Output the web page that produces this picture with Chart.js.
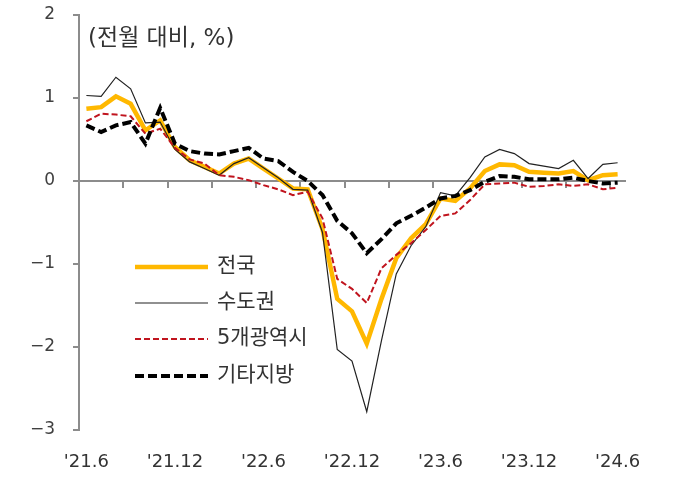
<!DOCTYPE html>
<html>
<head>
<meta charset="utf-8">
<script src="https://cdn.jsdelivr.net/npm/chart.js@4.4.1/dist/chart.umd.min.js"></script>
<style>
  html, body { margin: 0; padding: 0; background: #fff; }
  #wrap { width: 686px; height: 479px; position: relative; }
</style>
</head>
<body>
<div id="wrap"><canvas id="myChart"></canvas></div>
<script>
// 월별 전월 대비 변동률 (%), '21.6 ~ '24.6
const months = [
  "'21.6", "'21.7", "'21.8", "'21.9", "'21.10", "'21.11", "'21.12",
  "'22.1", "'22.2", "'22.3", "'22.4", "'22.5", "'22.6",
  "'22.7", "'22.8", "'22.9", "'22.10", "'22.11", "'22.12",
  "'23.1", "'23.2", "'23.3", "'23.4", "'23.5", "'23.6",
  "'23.7", "'23.8", "'23.9", "'23.10", "'23.11", "'23.12",
  "'24.1", "'24.2", "'24.3", "'24.4", "'24.5", "'24.6"
];
const national = [
  0.87, 0.89, 1.02, 0.93, 0.61, 0.73, 0.41, 0.25, 0.17, 0.09, 0.21, 0.27, 0.15,
  0.03, -0.09, -0.10, -0.58, -1.42, -1.57, -1.96, -1.42, -0.93, -0.69, -0.52, -0.21,
  -0.24, -0.09, 0.12, 0.20, 0.19, 0.11, 0.10, 0.09, 0.12, 0.01, 0.07, 0.08
];
const capital = [
  1.03, 1.02, 1.25, 1.11, 0.70, 0.71, 0.38, 0.23, 0.15, 0.07, 0.21, 0.28, 0.16,
  0.04, -0.10, -0.11, -0.62, -2.03, -2.17, -2.78, -1.92, -1.12, -0.78, -0.55, -0.14,
  -0.18, 0.04, 0.29, 0.38, 0.33, 0.21, 0.18, 0.15, 0.25, 0.03, 0.20, 0.22
];
const metro5 = [
  0.72, 0.81, 0.80, 0.78, 0.57, 0.63, 0.40, 0.26, 0.21, 0.07, 0.05, 0.01, -0.05,
  -0.10, -0.17, -0.13, -0.45, -1.18, -1.30, -1.47, -1.05, -0.89, -0.75, -0.59, -0.42,
  -0.39, -0.23, -0.04, -0.03, -0.02, -0.07, -0.06, -0.04, -0.06, -0.04, -0.10, -0.08
];
const others = [
  0.67, 0.59, 0.67, 0.71, 0.45, 0.88, 0.45, 0.36, 0.33, 0.32, 0.36, 0.40, 0.27,
  0.24, 0.11, 0.00, -0.17, -0.48, -0.63, -0.87, -0.70, -0.51, -0.42, -0.32, -0.21,
  -0.18, -0.11, -0.01, 0.06, 0.05, 0.02, 0.02, 0.02, 0.04, 0.00, -0.03, -0.02
];
const unitLabel = "(전월 대비, %)";

const FONT = "'DejaVu Sans', 'Noto Sans CJK KR', sans-serif";
const AXIS = "#8c8c8c";

// 범례 + 단위 표시 (차트 안쪽)
const insideLegend = {
  id: "insideLegend",
  afterDraw(chart) {
    const ctx = chart.ctx;
    const rows = [267, 303, 339, 376];
    ctx.save();
    ctx.fillStyle = "#333";
    ctx.textBaseline = "middle";
    ctx.font = "23px " + FONT;
    ctx.fillText(unitLabel, 88, 39);
    ctx.font = "21px " + FONT;
    chart.data.datasets.forEach((ds, i) => {
      const y = rows[i];
      ctx.beginPath();
      ctx.strokeStyle = ds.borderColor;
      ctx.lineWidth = ds.borderWidth;
      ctx.setLineDash(ds.borderDash || []);
      ctx.moveTo(135, y);
      ctx.lineTo(208, y);
      ctx.stroke();
      ctx.setLineDash([]);
      ctx.fillText(ds.label, 217, y);
    });
    ctx.restore();
  }
};

new Chart(document.getElementById("myChart"), {
  type: "line",
  data: {
    labels: months,
    datasets: [
      { label: "전국", data: national, borderColor: "#FFB800", borderWidth: 4.5, order: 4 },
      { label: "수도권", data: capital, borderColor: "#222", borderWidth: 1.2, order: 3 },
      { label: "5개광역시", data: metro5, borderColor: "#C0141E", borderWidth: 2, borderDash: [6, 3], order: 2 },
      { label: "기타지방", data: others, borderColor: "#000", borderWidth: 4, borderDash: [9, 4], order: 1 }
    ]
  },
  options: {
    responsive: true,
    maintainAspectRatio: false,
    animation: false,
    events: [],
    elements: { point: { radius: 0 }, line: { tension: 0 } },
    layout: { autoPadding: false, padding: { top: 15, right: 61, left: 0, bottom: 2 } },
    plugins: { legend: { display: false }, tooltip: { enabled: false } },
    scales: {
      x: {
        type: "category",
        offset: true,
        grid: { display: false, drawTicks: false },
        border: { display: false },
        ticks: {
          autoSkip: false,
          maxRotation: 0,
          padding: 22,
          color: "#333",
          font: { family: FONT, size: 18 },
          callback: (v, i) => (i % 6 === 0 ? months[i] : "")
        },
        afterFit: (s) => { s.height = 47; s.paddingLeft = 0; s.paddingRight = 0; }
      },
      x0: {
        type: "category",
        position: { y: 0 },
        offset: true,
        grid: {
          offset: true,
          drawOnChartArea: false,
          drawTicks: true,
          tickLength: 6,
          lineWidth: 2,
          color: (c) => (c.index > 0 && c.index % 3 === 0 ? AXIS : "rgba(0,0,0,0)")
        },
        border: { display: true, color: AXIS, width: 2 },
        ticks: { display: false, autoSkip: false }
      },
      y: {
        min: -3,
        max: 2,
        grid: { drawOnChartArea: false, drawTicks: true, tickLength: 6, color: AXIS, lineWidth: 2 },
        border: { display: true, color: AXIS, width: 2 },
        ticks: {
          stepSize: 1,
          padding: 18,
          color: "#404040",
          font: { family: FONT, size: 17 },
          callback: (v) => String(v).replace("-", "\u2212")
        },
        afterFit: (s) => { s.width = 79; s.paddingTop = 0; s.paddingBottom = 0; }
      }
    }
  },
  plugins: [insideLegend]
});
</script>
</body>
</html>
